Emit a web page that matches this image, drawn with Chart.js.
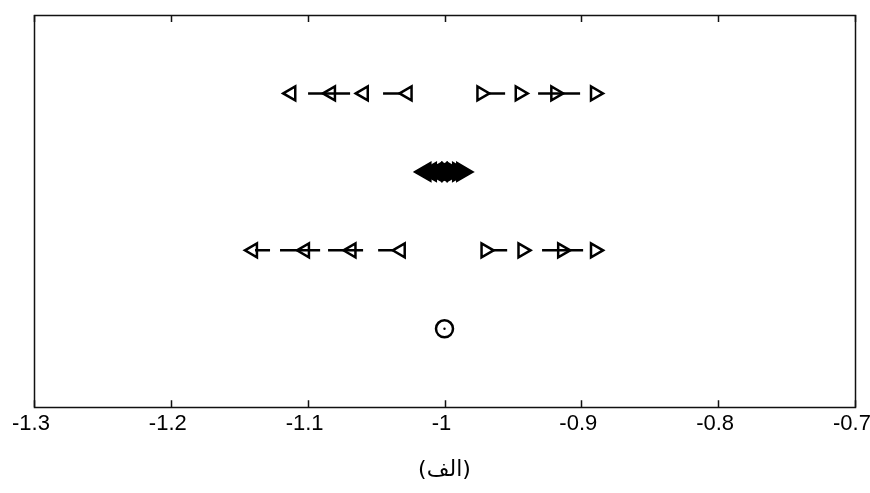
<!DOCTYPE html>
<html>
<head>
<meta charset="utf-8">
<script src="https://cdn.jsdelivr.net/npm/chart.js@4/dist/chart.umd.min.js"></script>
<style>
  html, body { margin: 0; padding: 0; background: #fff; }
  #wrap { width: 870px; height: 493px; }
</style>
</head>
<body>
<div id="wrap"><canvas id="myChart"></canvas></div>
<script>
// axis
const xTicks = [-1.3, -1.2, -1.1, -1.0, -0.9, -0.8, -0.7];
const rowLevels = [4, 3, 2, 1];

// top row
const topLeft = [-1.112, -1.083, -1.059, -1.027];
const topRight = [-0.973, -0.945, -0.919, -0.890];
const topLinks = [[-1.0997, -1.0690], [-1.0449, -1.0325], [-0.9681, -0.9557], [-0.9316, -0.9009]];

// middle cluster around -1
const midLeft = [-1.014, -1.010, -1.006, -1.002];
const midRight = [-0.998, -0.994, -0.990, -0.987];

// lower row
const lowLeft = [-1.140, -1.102, -1.068, -1.032];
const lowRight = [-0.970, -0.943, -0.914, -0.890];
const lowLinks = [[-1.1385, -1.1275], [-1.1202, -1.0909], [-1.0851, -1.0595], [-1.0485, -1.0376],
                  [-0.9652, -0.9542], [-0.9287, -0.8987]];

// single point
const bottomPoint = [-1.000];

const titleText = '(الف)';

function pts(xs, y) {
    return xs.map(x => ({ x: x, y: y }));
}

function markers(xs, y, rot, fill, r) {
    return {
        data: pts(xs, y),
        pointStyle: 'triangle',
        rotation: rot,
        pointRadius: r || 8,
        pointBorderWidth: 2.5,
        pointBorderColor: '#000',
        pointBackgroundColor: fill ? '#000' : 'rgba(0,0,0,0)',
        showLine: false
    };
}

function links(pairs, y) {
    return pairs.map(p => ({
        data: pts(p, y),
        showLine: true,
        borderColor: '#000',
        borderWidth: 2.5,
        pointRadius: 0
    }));
}

const datasets = [
    ...links(topLinks, rowLevels[0]),
    markers(topLeft, rowLevels[0], -90, false),
    markers(topRight, rowLevels[0], 90, false),
    markers(midLeft, rowLevels[1], -90, true, 10),
    markers(midRight, rowLevels[1], 90, true, 10),
    ...links(lowLinks, rowLevels[2]),
    markers(lowLeft, rowLevels[2], -90, false),
    markers(lowRight, rowLevels[2], 90, false),
    {
        data: pts(bottomPoint, rowLevels[3]),
        pointStyle: 'circle',
        pointRadius: 8.5,
        pointBorderWidth: 2.5,
        pointBorderColor: '#000',
        pointBackgroundColor: 'rgba(0,0,0,0)'
    },
    {
        data: pts(bottomPoint, rowLevels[3]),
        pointStyle: 'circle',
        pointRadius: 1.2,
        pointBorderWidth: 0,
        pointBackgroundColor: '#000'
    }
];

// frame around the plot area with inward tick marks top and bottom
const frame = {
    id: 'frame',
    afterDatasetsDraw(chart) {
        const { ctx, chartArea: a, scales: { x } } = chart;
        ctx.save();
        ctx.strokeStyle = '#111';
        ctx.lineWidth = 1.5;
        ctx.strokeRect(Math.round(a.left) + 0.5, Math.round(a.top) + 0.5,
                       Math.round(a.right - a.left), Math.round(a.bottom - a.top));
        ctx.beginPath();
        xTicks.forEach(v => {
            const px = Math.round(x.getPixelForValue(v)) + 0.5;
            ctx.moveTo(px, a.top);
            ctx.lineTo(px, a.top + 7);
            ctx.moveTo(px, a.bottom);
            ctx.lineTo(px, a.bottom - 7);
        });
        ctx.stroke();
        ctx.restore();
    }
};

const ctx = document.getElementById('myChart').getContext('2d');
new Chart(ctx, {
    type: 'scatter',
    data: { datasets: datasets },
    options: {
        responsive: true,
        maintainAspectRatio: false,
        animation: false,
        layout: { padding: { left: 34, right: 15, top: 15, bottom: 10 } },
        plugins: {
            legend: { display: false },
            tooltip: { enabled: false },
            title: {
                display: true,
                position: 'bottom',
                text: titleText,
                color: '#000',
                font: { family: 'DejaVu Sans', size: 22, weight: 'normal' },
                padding: { top: 15, bottom: 0 }
            }
        },
        scales: {
            x: {
                type: 'linear',
                min: -1.3,
                max: -0.7,
                afterBuildTicks: axis => { axis.ticks = xTicks.map(v => ({ value: v })); },
                // edge labels may hang past the frame
                afterFit: axis => { axis.paddingLeft = 0; axis.paddingRight = 0; },
                grid: { display: false, drawTicks: false },
                border: { display: false },
                ticks: {
                    color: '#000',
                    padding: 4,
                    maxRotation: 0,
                    autoSkip: false,
                    font: { family: 'Liberation Sans', size: 22 },
                    // trailing space nudges each label a little left of its tick
                    callback: v => (Math.abs(v + 1) < 1e-9 ? '-1' : String(Math.round(v * 10) / 10)) + ' '
                }
            },
            y: {
                display: false,
                min: 0,
                max: 5
            }
        }
    },
    plugins: [frame]
});
</script>
</body>
</html>
